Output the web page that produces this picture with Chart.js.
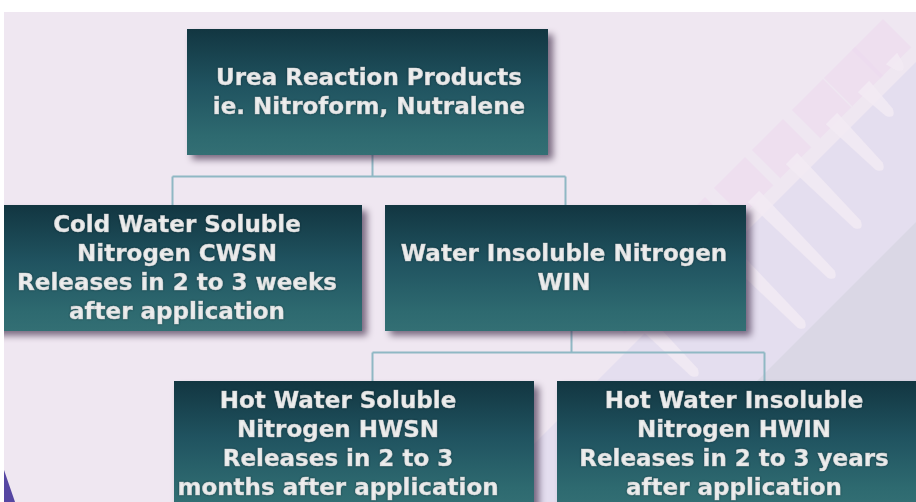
<!DOCTYPE html>
<html><head><meta charset="utf-8">
<script src="https://cdn.jsdelivr.net/npm/chart.js@4"></script>
<style>html,body{margin:0;padding:0;overflow:hidden;background:#fff}#wrap{width:916px;height:502px;overflow:hidden;position:relative}canvas{display:block}</style>
</head><body><div id="wrap"><canvas id="c" width="916" height="532"></canvas></div>
<script>
// ---- data ----
const levels = ['Urea Reaction Products', 'Nitrogen fractions', 'WIN fractions'];
const nodeText = [
  ['Urea Reaction Products', 'ie. Nitroform, Nutralene'],
  ['Cold Water Soluble', 'Nitrogen CWSN', 'Releases in 2 to 3 weeks', 'after application'],
  ['Water Insoluble Nitrogen', 'WIN'],
  ['Hot Water Soluble', 'Nitrogen HWSN', 'Releases in 2 to 3', 'months after application'],
  ['Hot Water Insoluble', 'Nitrogen HWIN', 'Releases in 2 to 3 years', 'after application']
];
const nodeLevel = [0, 1, 1, 2, 2];
const nodeParent = [-1, 0, 0, 2, 2];

// ---- layout (units of the hidden 0..916 x scale) ----
const layout = {
  span: [[187, 548], [-8, 362], [385, 746], [174, 534], [557, 940]],
  textX: [369, 177, 564, 338, 734],
  inX: [null, 172, 565, 372, 764],
  outX: [372, null, 571, null, null]
};
const BOX_FRAC = 0.716;

function boxGradient(chart) {
  const a = chart.chartArea;
  if (!a) return '#1f5560';
  const g = chart.ctx.createLinearGradient(0, a.top, 0, a.bottom);
  const n = levels.length;
  for (let i = 0; i < n; i++) {
    const s = (i + (1 - BOX_FRAC) / 2) / n, e = (i + (1 + BOX_FRAC) / 2) / n;
    g.addColorStop(s, '#123641');
    g.addColorStop(s + (e - s) * 0.45, '#205360');
    g.addColorStop(s + (e - s) * 0.85, '#2e6a70');
    g.addColorStop(e, '#336f74');
  }
  return g;
}

const bgPlugin = {
  id: 'bg',
  beforeDraw(chart) {
    const ctx = chart.ctx;
    ctx.save();
    ctx.fillStyle = '#ffffff';
    ctx.fillRect(0, 0, 916, 532);
    ctx.fillStyle = '#efe7f1';
    ctx.fillRect(4, 12, 912, 520);
    // lavender band
    ctx.fillStyle = '#e4deef';
    ctx.beginPath();
    ctx.moveTo(916, 62); ctx.lineTo(916, 532); ctx.lineTo(446, 532); ctx.closePath();
    ctx.fill();
    // darker wedge
    ctx.fillStyle = '#dad7e5';
    ctx.beginPath();
    ctx.moveTo(916, 222); ctx.lineTo(916, 532); ctx.lineTo(606, 532); ctx.closePath();
    ctx.fill();
    // pink patches and light streaks
    const tips = [[905, 72], [895, 118], [885, 172], [863, 230], [837, 280], [807, 330], [700, 378]];
    tips.forEach(([tx, ty]) => {
      const d = tx - ty; const s = 950;
      const sx = (s + d) / 2, sy = (s - d) / 2;
      ctx.save();
      ctx.translate(sx, sy);
      ctx.rotate(Math.PI / 4);
      const len = Math.hypot(tx - sx, ty - sy);
      ctx.fillStyle = 'rgba(236,218,238,0.6)';
      ctx.fillRect(-34, -22, 40, 44);
      ctx.fillStyle = 'rgba(242,235,244,0.8)';
      ctx.beginPath();
      ctx.moveTo(0, -8); ctx.lineTo(len - 8, -5);
      ctx.quadraticCurveTo(len + 2, 0, len - 8, 5);
      ctx.lineTo(0, 8); ctx.closePath();
      ctx.fill();
      ctx.restore();
    });
    // purple wedge at bottom-left
    ctx.fillStyle = '#5646a2';
    ctx.beginPath();
    ctx.moveTo(4, 470); ctx.lineTo(15, 502); ctx.lineTo(4, 502); ctx.closePath();
    ctx.fill();
    ctx.restore();
  },
  beforeDatasetsDraw(chart) {
    const ctx = chart.ctx, xs = chart.scales.x;
    const els = nodeText.map((_, i) => chart.getDatasetMeta(i).data[nodeLevel[i]]);
    ctx.save();
    ctx.strokeStyle = '#8fb8c4';
    ctx.lineWidth = 2;
    nodeText.forEach((_, p) => {
      const kids = nodeParent.map((q, k) => q === p ? k : -1).filter(k => k >= 0);
      if (!kids.length) return;
      const pe = els[p];
      const bottom = pe.y + pe.height / 2;
      const top = els[kids[0]].y - els[kids[0]].height / 2;
      const busY = Math.round(bottom + (top - bottom) * 0.42) + 0.5;
      const px = Math.round(xs.getPixelForValue(layout.outX[p])) + 0.5;
      ctx.beginPath();
      ctx.moveTo(px, bottom); ctx.lineTo(px, busY);
      const kx = kids.map(k => Math.round(xs.getPixelForValue(layout.inX[k])) + 0.5);
      ctx.moveTo(Math.min(...kx), busY); ctx.lineTo(Math.max(...kx), busY);
      kx.forEach(x => { ctx.moveTo(x, busY); ctx.lineTo(x, top + 1); });
      ctx.stroke();
    });
    ctx.restore();
  },
  beforeDatasetDraw(chart) {
    const ctx = chart.ctx;
    ctx.save();
    ctx.shadowColor = 'rgba(55,35,65,0.65)';
    ctx.shadowBlur = 7;
    ctx.shadowOffsetX = 5;
    ctx.shadowOffsetY = 5;
  },
  afterDatasetDraw(chart) {
    chart.ctx.restore();
  },
  afterDatasetsDraw(chart) {
    const ctx = chart.ctx, xs = chart.scales.x;
    ctx.save();
    ctx.fillStyle = '#f2f2f2';
    ctx.strokeStyle = 'rgba(242,242,242,0.6)';
    ctx.lineWidth = 0.6;
    ctx.font = 'bold 23px "DejaVu Sans", sans-serif';
    ctx.textAlign = 'center';
    ctx.textBaseline = 'middle';
    ctx.shadowColor = 'rgba(0,20,25,0.5)';
    ctx.shadowBlur = 2;
    nodeText.forEach((lines, i) => {
      const el = chart.getDatasetMeta(i).data[nodeLevel[i]];
      const cx = xs.getPixelForValue(layout.textX[i]);
      const lh = 29;
      const y0 = el.y + 1.5 - (lines.length - 1) * lh / 2;
      lines.forEach((t, j) => { ctx.fillText(t, cx, y0 + j * lh); ctx.strokeText(t, cx, y0 + j * lh); });
    });
    ctx.restore();
  },
  afterDraw(chart) {
    const ctx = chart.ctx;
    ctx.save();
    ctx.fillStyle = '#ffffff';
    ctx.fillRect(0, 0, 4, 532);
    ctx.fillRect(0, 0, 916, 12);
    ctx.restore();
  }
};

new Chart(document.getElementById('c'), {
  type: 'bar',
  data: {
    labels: levels,
    datasets: nodeText.map((t, i) => ({
      label: t.join(' '),
      data: levels.map((_, l) => l === nodeLevel[i] ? layout.span[i] : null),
      backgroundColor: (c) => boxGradient(c.chart),
      borderWidth: 0,
      borderSkipped: false
    }))
  },
  options: {
    indexAxis: 'y',
    responsive: false,
    animation: false,
    events: [],
    layout: { padding: { top: 4, left: 0, right: 0, bottom: 0 } },
    plugins: { legend: { display: false }, tooltip: { enabled: false } },
    datasets: { bar: { grouped: false, barPercentage: 1, categoryPercentage: BOX_FRAC } },
    scales: {
      x: { type: 'linear', min: 0, max: 916, display: false },
      y: { type: 'category', display: false, offset: true }
    }
  },
  plugins: [bgPlugin]
});
</script>
</body></html>
